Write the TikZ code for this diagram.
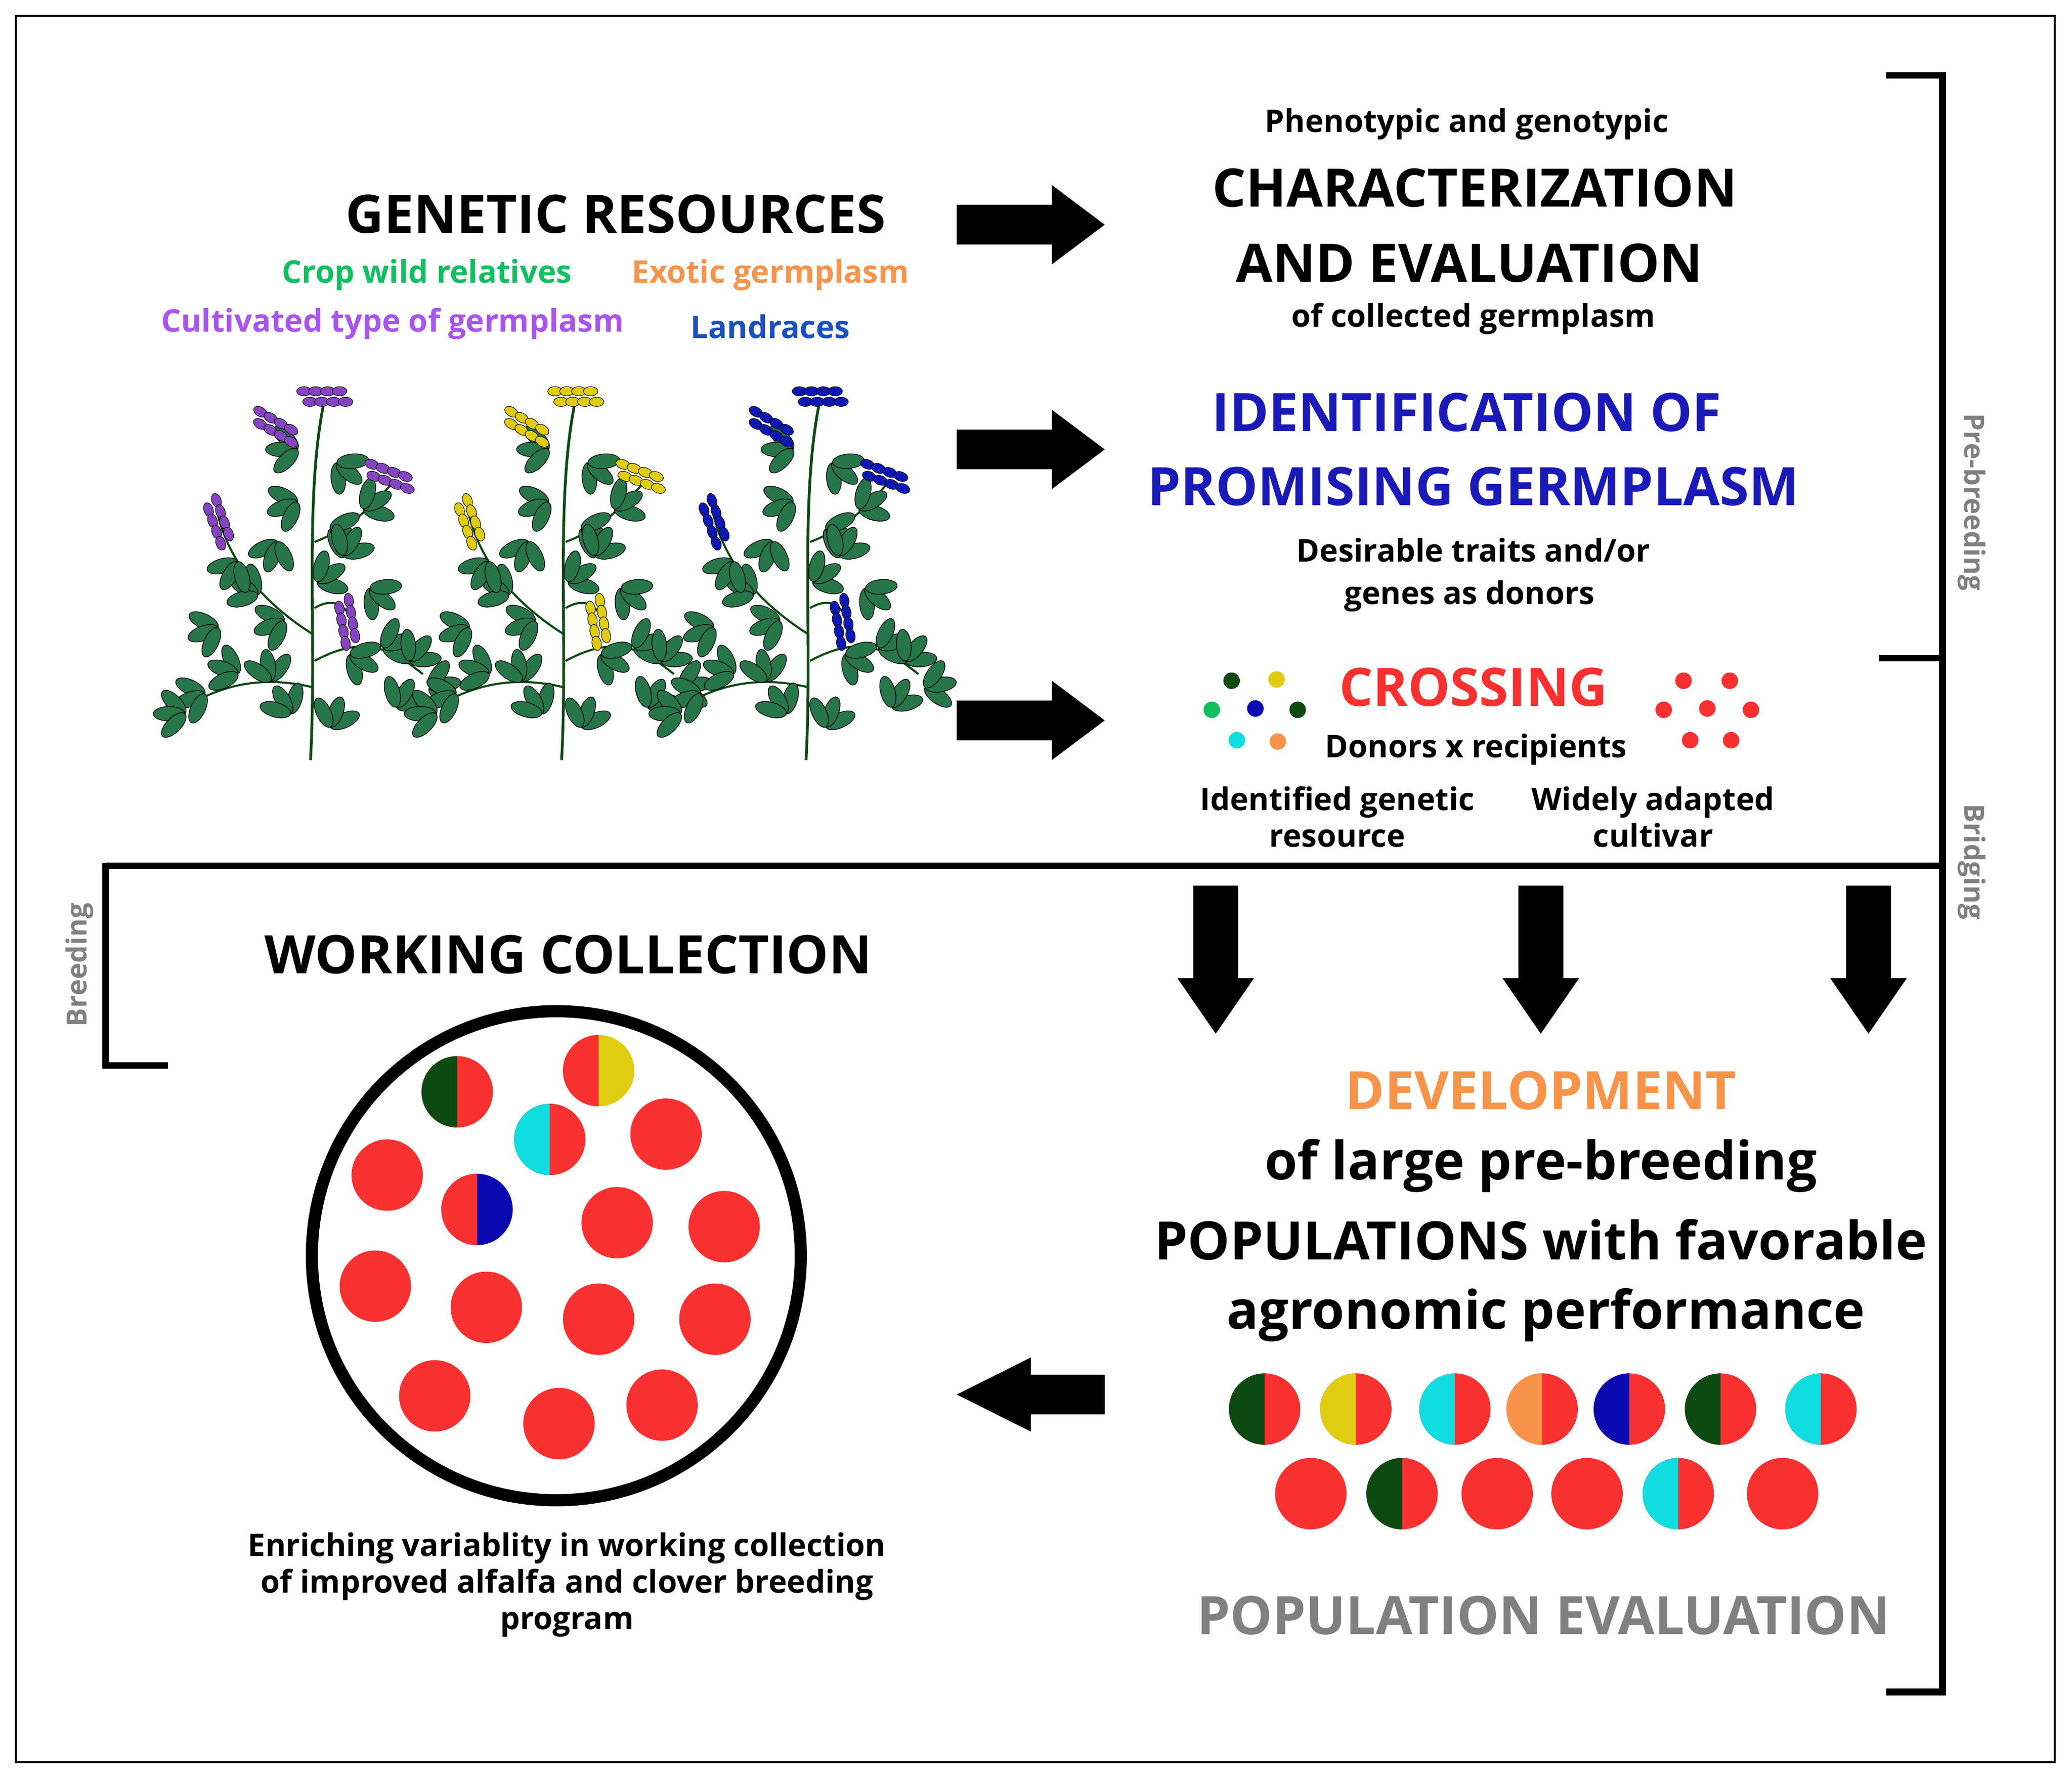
\documentclass[tikz,border=0pt]{standalone}
\usepackage{fontspec}
\setmainfont{Open Sans}
\usetikzlibrary{calc}
\definecolor{cgreen}{HTML}{10C060}
\definecolor{corange}{HTML}{F7944A}
\definecolor{cpurple}{HTML}{A855F0}
\definecolor{cblue}{HTML}{1A50C0}
\definecolor{ctitleblue}{HTML}{1A1AB8}
\definecolor{cred}{HTML}{F83030}
\definecolor{dgreen}{HTML}{0D4A12}
\definecolor{cyel}{HTML}{E0CC10}
\definecolor{ccyan}{HTML}{10DDE0}
\definecolor{dblue}{HTML}{0A0AB0}
\definecolor{cgray}{HTML}{808080}
\definecolor{leaf}{HTML}{2E8B57}
\tikzset{
  big/.style={font=\fontsize{30.5}{36}\selectfont\bfseries},
  small/.style={font=\fontsize{18}{21}\selectfont\bfseries},
  side/.style={font=\fontsize{16}{19}\selectfont\bfseries,text=cgray},
  line/.style={line width=3.8pt,black},
  rarrow/.style={fill=black},
  dot/.style={circle,inner sep=0pt,minimum size=9.5pt},
}
% half circle: #1 x, #2 y, #3 left color, #4 right color
\newcommand\halfc[4]{%
  \fill[#4] (#1,#2) circle[radius=27];
  \fill[#3] (#1,#2) ++(0,27) arc[start angle=90,end angle=270,radius=27] -- cycle;}
\newcommand\flw[4]{% x y color rot
  \foreach \k in {0,...,7}{\fill[#3,draw=black,line width=0.3pt,rotate around={#4:(#1,#2)}] ($(#1,#2)+(\k*4.5,{mod(\k,2)*8-4})$) ellipse[x radius=5.5,y radius=3.5];}}
\newcommand\lf[3]{% x y rot : trifoliate leaf
  \foreach \d in {-45,0,45}{\fill[leaf!85!black,draw=black,line width=0.4pt,rotate around={#3+\d:(#1,#2)}] ($(#1,#2)+(12,0)$) ellipse[x radius=12,y radius=5.5];}}
\newcommand\plant[3]{%
\begin{scope}[shift={(#1,#2)}]
 \draw[dgreen,line width=1.6pt] (0,135) .. controls (5,40) and (-5,-60) .. (10,-135);
 \draw[dgreen,line width=1.2pt] (2,40) .. controls (-30,20) and (-60,-10) .. (-70,-50);
 \draw[dgreen,line width=1.2pt] (3,-30) .. controls (30,-40) and (50,-60) .. (62,-75);
 \draw[dgreen,line width=1.2pt] (2,80) .. controls (-40,70) and (-70,80) .. (-95,95);
 \draw[dgreen,line width=1.2pt] (3,60) .. controls (40,40) and (60,50) .. (85,70);
 \draw[dgreen,line width=1.2pt] (3,20) .. controls (20,10) and (30,20) .. (35,40);
 \foreach \x/\y/\r in {-20/30/200,-40/10/150,-55/-15/240,15/-40/-20,40/-55/30,25/-20/60,-30/75/100,-55/70/160,-80/85/200,-95/100/180,30/55/-30,55/50/20,75/60/50,90/80/10,-15/100/120,15/110/70,-10/-60/200,20/-90/-40,-10/-100/180,5/0/30,45/5/-40,-25/-30/250,-70/35/200,65/95/60}{\lf{\x}{\y}{\r}}
 \flw{-75}{-60}{#3}{-70}
 \flw{-5}{-140}{#3}{0}
 \flw{45}{-85}{#3}{-20}
 \flw{25}{15}{#3}{-80}
 \flw{-40}{-125}{#3}{-30}
\end{scope}}
\begin{document}
\begin{tikzpicture}[x=0.02674cm,y=-0.02674cm]
\useasboundingbox (0,0) rectangle (1568,1345);
\fill[white] (0,0) rectangle (1568,1345);
\draw[line width=1.2pt] (12,12) rectangle (1555,1333);
% brackets and lines
\draw[line,line cap=rect] (1430,57) -- (1470,57) -- (1470,1280) -- (1430,1280);
\draw[line] (1422,498) -- (1470,498);
\draw[line] (80,655) -- (1470,655);
\draw[line] (80,653) -- (80,806) -- (127,806);
\node[side,rotate=-90] (pb) at (1492,380) {Pre-breeding};
\node[side,rotate=-90] (br) at (1492,652) {Bridging};
\node[side,rotate=90] (bd) at (60,730) {Breeding};
% left header
\node[big] (gr) at (466,162) {GENETIC RESOURCES};
\node[small,text=cgreen] (cwr) at (323,208) {Crop wild relatives};
\node[small,text=corange] (eg) at (583,208) {Exotic germplasm};
\node[small,text=cpurple] (ct) at (297,245) {Cultivated type of germplasm};
\node[small,text=cblue] (lr) at (583,247) {Landraces};
% plants
\plant{235}{440}{cpurple!80!black}
\plant{425}{440}{cyel}
\plant{610}{440}{dblue!80!cblue}
% right arrows
\foreach \yy in {170,340,545}{\fill[rarrow] (724,\yy-15) -- (796,\yy-15) -- (796,\yy-30) -- (836,\yy) -- (796,\yy+30) -- (796,\yy+15) -- (724,\yy+15) -- cycle;}
% right texts
\node[small] (pg) at (1110,94) {Phenotypic and genotypic};
\node[big] (ch) at (1116,142) {CHARACTERIZATION};
\node[big] (ae) at (1112,199) {AND EVALUATION};
\node[small] (cg) at (1115,241) {of collected germplasm};
\node[big,text=ctitleblue] (id) at (1110,312) {IDENTIFICATION OF};
\node[big,text=ctitleblue] (pgm) at (1115,368) {PROMISING GERMPLASM};
\node[small] (dt) at (1115,416) {Desirable traits and/or};
\node[small] (gd) at (1112,451) {genes as donors};
\node[big,text=cred] (cr) at (1115,520) {CROSSING};
\node[small] (dx) at (1117,567) {Donors x recipients};
\node[small,align=center] (igr) at (1012,618) {Identified genetic\\resource};
\node[small,align=center] (wac) at (1251,618) {Widely adapted\\cultivar};
\foreach \x/\y/\c in {932/515/dgreen,966/514/cyel,917/537/cgreen,950/536/dblue,982/537/dgreen,936/560/ccyan,967/561/corange}{\node[dot,fill=\c] at (\x,\y) {};}
\foreach \x/\y in {1274/515,1309/515,1259/537,1292/536,1325/537,1279/560,1310/560}{\node[dot,fill=cred] at (\x,\y) {};}
% down arrows
\foreach \xx in {920,1166,1414}{\fill[rarrow] (\xx-17,670) -- (\xx+17,670) -- (\xx+17,740) -- (\xx+29,740) -- (\xx,782) -- (\xx-29,740) -- (\xx-17,740) -- cycle;}
% working collection
\node[big] (wc) at (430,722) {WORKING COLLECTION};
\draw[line width=7pt] (421,950) circle[radius=185];
\halfc{346}{826}{dgreen}{cred}
\halfc{453}{810}{cred}{cyel}
\halfc{416}{862}{ccyan}{cred}
\halfc{361}{915}{cred}{dblue}
\foreach \x/\y in {504/858,293/889,467/925,548/928,284/973,368/989,453/998,541/998,329/1056,423/1077,501/1063}{\fill[cred] (\x,\y) circle[radius=27];}
\node[small,align=center] (en) at (429,1199) {Enriching variablity in working collection\\of improved alfalfa and clover breeding\\program};
% development
\node[big,text=corange] (dev) at (1166,825) {DEVELOPMENT};
\node[big] (ol) at (1166,882) {of large pre-breeding};
\node[big] (pop) at (1166,938) {POPULATIONS with favorable};
\node[big] (ag) at (1170,995) {agronomic performance};
\fill[rarrow] (836,1040) -- (780,1040) -- (780,1027) -- (724,1055) -- (780,1083) -- (780,1070) -- (836,1070) -- cycle;
\foreach \x/\c in {957/dgreen,1026/cyel,1101/ccyan,1167/corange,1233/dblue,1302/dgreen,1378/ccyan}{\halfc{\x}{1066}{\c}{cred}}
\foreach \x/\c in {992/cred,1061/dgreen,1133/cred,1201/cred,1270/ccyan,1349/cred}{\halfc{\x}{1130}{\c}{cred}}
\node[big,text=cgray] (pe) at (1168,1222) {POPULATION EVALUATION};
\end{tikzpicture}
\end{document}
